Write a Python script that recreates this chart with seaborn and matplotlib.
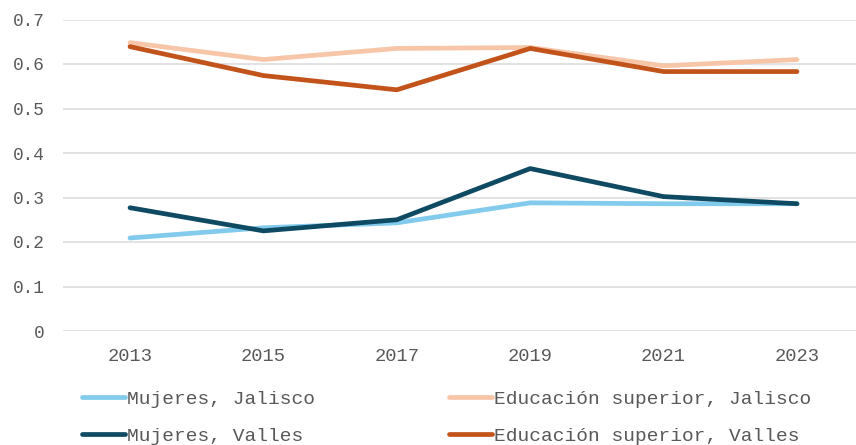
import numpy as np
import pandas as pd
import matplotlib
matplotlib.use("Agg")
import matplotlib.pyplot as plt
import seaborn as sns

years = ["2013", "2015", "2017", "2019", "2021", "2023"]
mujeres_jalisco = [0.209, 0.232, 0.243, 0.288, 0.286, 0.286]
edu_jalisco = [0.648, 0.610, 0.635, 0.637, 0.596, 0.610]
mujeres_valles = [0.277, 0.225, 0.250, 0.365, 0.302, 0.286]
edu_valles = [0.639, 0.574, 0.542, 0.635, 0.583, 0.583]

series_names = ["Mujeres, Jalisco", "Educación superior, Jalisco",
                "Mujeres, Valles", "Educación superior, Valles"]
series_values = [mujeres_jalisco, edu_jalisco, mujeres_valles, edu_valles]
colors = ["#82CBEC", "#F7C5A7", "#0F4A63", "#C1531B"]

rows = []
for name, vals in zip(series_names, series_values):
    for y, v in zip(years, vals):
        rows.append({"Año": y, "Valor": v, "Serie": name})
df = pd.DataFrame(rows)

sns.set_theme(style="white")
plt.rcParams["font.family"] = ["Liberation Mono", "DejaVu Sans Mono"]

fig = plt.figure(figsize=(8.56, 4.45), dpi=100)
ax = fig.add_axes([63.3 / 856, 1 - 331 / 445, (863.7 - 63.3) / 856, (331 - 19.5) / 445])

sns.lineplot(data=df, x="Año", y="Valor", hue="Serie", hue_order=series_names,
             palette=colors, linewidth=3.4, sort=False, ax=ax,
             solid_capstyle="round", solid_joinstyle="round")

ax.set_xlim(-0.5, 5.5)
ax.set_ylim(0, 0.7)
ax.set_yticks(np.arange(0, 0.71, 0.1))
ax.set_yticklabels(["0", "0.1", "0.2", "0.3", "0.4", "0.5", "0.6", "0.7"])
ax.yaxis.grid(True, color="#DDDDDD", linewidth=1.2)
ax.set_axisbelow(True)
for s in ax.spines.values():
    s.set_visible(False)
ax.set_xlabel("")
ax.set_ylabel("")
ax.tick_params(axis="y", length=0, pad=13.7, labelsize=12.8, labelcolor="#595959")
ax.tick_params(axis="x", length=0, pad=12, labelsize=13.5, labelcolor="#595959")

handles, labels = ax.get_legend_handles_labels()
order = [0, 2, 1, 3]
leg = ax.legend([handles[i] for i in order], [labels[i] for i in order],
                ncol=2, loc="upper left", bbox_to_anchor=(82 / 856, 1 - 390 / 445),
                bbox_transform=fig.transFigure, frameon=False, fontsize=14,
                handlelength=2.2, handletextpad=0.1, columnspacing=6.9,
                labelspacing=1.0, borderpad=0, borderaxespad=0)
for t in leg.get_texts():
    t.set_color("#595959")
for h in leg.get_lines():
    h.set_linewidth(3.4)
    h.set_solid_capstyle("round")

fig.savefig("out.png", dpi=100)
